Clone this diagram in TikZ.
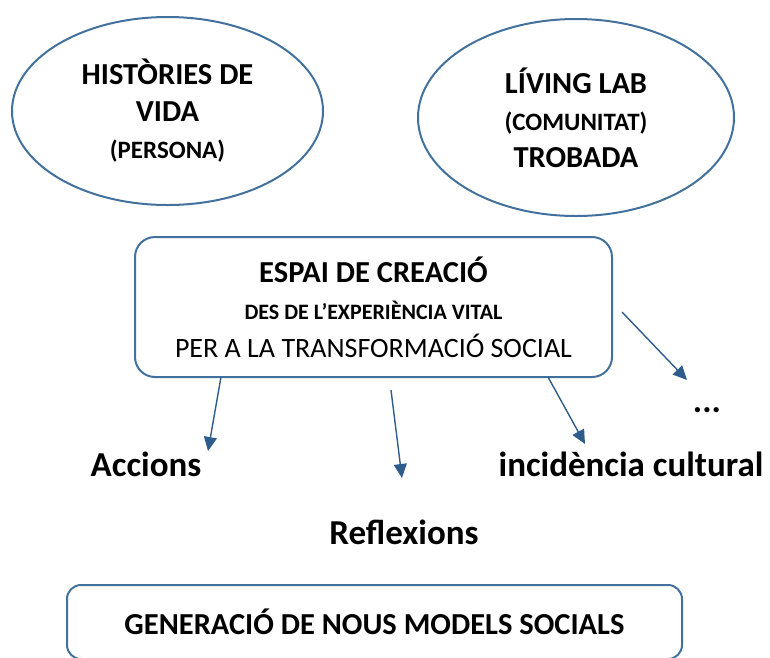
\documentclass[tikz,border=0pt]{standalone}
\usepackage{fontspec}
\setmainfont{Carlito}
\usepackage{tikz}
\usetikzlibrary{shapes.geometric,arrows.meta}
\definecolor{frame-blue}{HTML}{41719C}
\definecolor{arrow-blue}{HTML}{2E5D8C}
\tikzset{
    oval-box/.style = {draw=frame-blue, line width=2pt, ellipse, inner sep=0pt, align=center, font=\fontsize{30.5}{37}\selectfont\bfseries},
    round-box/.style = {draw=frame-blue, line width=2pt, rectangle, rounded corners=20pt, inner sep=0pt, align=center},
    out-label/.style = {font=\fontsize{35}{40}\selectfont\bfseries, inner sep=0pt, anchor=base},
    out-arrow/.style = {draw=arrow-blue, line width=1.4pt, -{Triangle[length=14pt,width=13pt]}},
}
\newcommand{\smallcaps}{\fontsize{25}{37}\selectfont}

\begin{document}
\begin{tikzpicture}[x=1pt, y=-1pt]
\clip (0,0) rectangle (770,657);
\node [oval-box, minimum width=311pt, minimum height=188pt] (historia) at (167.5,111) {HISTÒRIES DE\\ VIDA\\ \smallcaps (PERSONA)};
\node [oval-box, minimum width=316pt, minimum height=197pt] (livinglab) at (576,117.5) {LÍVING LAB\\ \smallcaps (COMUNITAT)\\ TROBADA};
\node [round-box, minimum width=477pt, minimum height=140pt, font=\fontsize{28}{37.5}\selectfont] (espai) at (373.5,307) {\bfseries\fontsize{30.5}{37.5}\selectfont ESPAI DE CREACIÓ\\ \bfseries\fontsize{22}{37.5}\selectfont DES DE L’EXPERIÈNCIA VITAL\\ PER A LA TRANSFORMACIÓ SOCIAL};
\node [round-box, rounded corners=14pt, minimum width=615pt, minimum height=74pt, font=\fontsize{30.5}{35}\selectfont\bfseries] (models) at (374.5,622) {GENERACIÓ DE NOUS MODELS SOCIALS};

\node [out-label] (accions) at (146,476) {Accions};
\node [out-label] (reflexions) at (404,544) {Reflexions};
\node [out-label] (incidencia) at (631,476) {incidència cultural};
\node [out-label] (more) at (707,412) {...};

\coordinate (acc-start) at (221,377);
\coordinate (acc-end) at (208,451);
\coordinate (ref-start) at (391,390);
\coordinate (ref-end) at (402,478);
\coordinate (inc-start) at (548,377);
\coordinate (inc-end) at (585,444);
\coordinate (more-start) at (622,312);
\coordinate (more-end) at (687,380);

\draw [out-arrow] (acc-start) -- (acc-end);
\draw [out-arrow] (ref-start) -- (ref-end);
\draw [out-arrow] (inc-start) -- (inc-end);
\draw [out-arrow] (more-start) -- (more-end);
\end{tikzpicture}
\end{document}
